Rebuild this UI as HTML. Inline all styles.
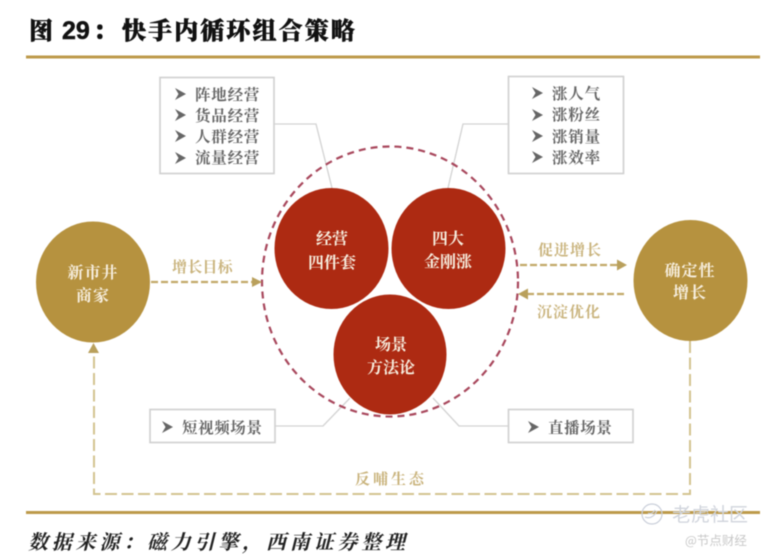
<!DOCTYPE html>
<html><head><meta charset="utf-8">
<style>
html,body{margin:0;padding:0;background:#fff;width:763px;height:558px;overflow:hidden}
svg{display:block;filter:blur(0.55px)}
text{font-family:"Liberation Serif","Noto Serif CJK SC",serif}
.g{font-size:15.5px;fill:#666;font-weight:700}
.a{font-size:15px;fill:#c9b37c;font-weight:700}
.w{font-size:16px;fill:#f7efe0;font-weight:700;text-anchor:middle}
</style></head><body>
<svg width="763" height="558" viewBox="0 0 763 558" xmlns="http://www.w3.org/2000/svg">
<g font-size="24" font-weight="900" fill="#111" stroke="#111" stroke-width="0.5">
<text x="29" y="39">图</text>
<text x="62" y="39" style="font-family:'Liberation Sans',sans-serif" font-size="25">29</text>
<text x="93" y="39">：</text>
<text x="122" y="39" letter-spacing="2.1">快手内循环组合策略</text>
</g>
<rect x="26" y="55.5" width="734" height="3" fill="#bd9a4a"/>
<rect x="26" y="511" width="734" height="3" fill="#bd9a4a"/>

<g fill="#fff" stroke="#cfcfcf" stroke-width="1.6">
<rect x="160" y="77.5" width="114" height="96"/>
<rect x="508.5" y="76.5" width="115" height="97"/>
<rect x="150" y="409.5" width="125" height="33"/>
<rect x="508.5" y="409.5" width="124.5" height="33"/>
</g>
<g fill="none" stroke="#d2d2d2" stroke-width="1.3">
<path d="M274 124H316L332 188"/>
<path d="M508 124H463L448 188"/>
<path d="M275 426H323L350 398"/>
<path d="M508 426H459L433 398"/>
</g>

<ellipse cx="390" cy="281.500" rx="128" ry="135" fill="none" stroke="#a8475c" stroke-width="2.2" stroke-dasharray="7 5"/>
<ellipse cx="331.500" cy="248.500" rx="57" ry="60.500" fill="#ad2a12"/>
<ellipse cx="448.500" cy="248.500" rx="57" ry="60.500" fill="#ad2a12"/>
<ellipse cx="390" cy="354.500" rx="57" ry="60.500" fill="#ad2a12" stroke="#fff" stroke-width="1"/>

<ellipse cx="93" cy="282" rx="57" ry="60.500" fill="#b6923f"/>
<ellipse cx="690.500" cy="280.500" rx="57" ry="60.500" fill="#b6923f"/>

<g fill="none" stroke="#c2a968" stroke-width="2.200" stroke-dasharray="7 3">
<path d="M151 282H254"/>
<path d="M520 265H618"/>
<path d="M624 294H527"/>
</g>
<g fill="#b9a05c">
<path d="M262 282L252 277V287Z"/>
<path d="M627 265L617 259.500V270.500Z"/>
<path d="M518 294L528 288.500V299.500Z"/>
<path d="M93.500 343L88 353H99Z"/>
</g>
<path d="M690 341V494H94V353" fill="none" stroke="#d3c390" stroke-width="2" stroke-dasharray="12 4.500"/>

<g fill="#666">
<path d="M175 88L186 94L175 100L178.500 94Z"/>
<path d="M175 109L186 115L175 121L178.500 115Z"/>
<path d="M175 130L186 136L175 142L178.500 136Z"/>
<path d="M175 152L186 158L175 164L178.500 158Z"/>
<path d="M532 87L543 93L532 99L535.500 93Z"/>
<path d="M532 109L543 115L532 121L535.500 115Z"/>
<path d="M532 130L543 136L532 142L535.500 136Z"/>
<path d="M532 151L543 157L532 163L535.500 157Z"/>
<path d="M162 421L173 427L162 433L165.500 427Z"/>
<path d="M528 421L539 427L528 433L531.500 427Z"/>
</g>
<g class="g">
<text class="g" x="195" y="100" letter-spacing="0.8">阵地经营</text>
<text class="g" x="195" y="121" letter-spacing="0.8">货品经营</text>
<text class="g" x="195" y="142" letter-spacing="0.8">人群经营</text>
<text class="g" x="195" y="163" letter-spacing="0.8">流量经营</text>
<text class="g" x="552" y="99" letter-spacing="0.8">涨人气</text>
<text class="g" x="552" y="120" letter-spacing="0.8">涨粉丝</text>
<text class="g" x="552" y="142" letter-spacing="0.8">涨销量</text>
<text class="g" x="552" y="163" letter-spacing="0.8">涨效率</text>
<text class="g" x="182" y="433" letter-spacing="0.6">短视频场景</text>
<text class="g" x="548" y="433" letter-spacing="0.6">直播场景</text>
</g>

<text class="w" x="332" y="244">经营</text>
<text class="w" x="332" y="268">四件套</text>
<text class="w" x="448" y="244">四大</text>
<text class="w" x="448" y="267">金刚涨</text>
<text class="w" x="391" y="350">场景</text>
<text class="w" x="391" y="373">方法论</text>
<text class="w" x="93" y="278" letter-spacing="1">新市井</text>
<text class="w" x="93" y="301" letter-spacing="1">商家</text>
<text class="w" x="690" y="276" letter-spacing="1">确定性</text>
<text class="w" x="690" y="298" letter-spacing="1">增长</text>

<text class="a" x="172" y="272" letter-spacing="0.2">增长目标</text>
<text class="a" x="538" y="255" letter-spacing="1">促进增长</text>
<text class="a" x="537" y="317" letter-spacing="1">沉淀优化</text>
<text class="a" x="355" y="484" letter-spacing="3">反哺生态</text>

<text x="28" y="549" font-size="20" font-style="italic" font-weight="700" fill="#222" letter-spacing="3.800">数据来源：磁力引擎，西南证券整理</text>

<g>
<circle cx="652" cy="514" r="10" fill="none" stroke="#c9ced9" stroke-width="1.200"/>
<path d="M645 517q7 3 12-6M648 513q4 2 7-3" fill="none" stroke="#c9ced9" stroke-width="1.200"/>
<text x="672" y="521" font-size="19" fill="#d0d4dc" style="font-family:'Noto Sans CJK SC',sans-serif">老虎社区</text>
<text x="685" y="545" font-size="12.500" fill="#c8c8c8" style="font-family:'Noto Sans CJK SC',sans-serif">@节点财经</text>
</g>
</svg>
</body></html>
